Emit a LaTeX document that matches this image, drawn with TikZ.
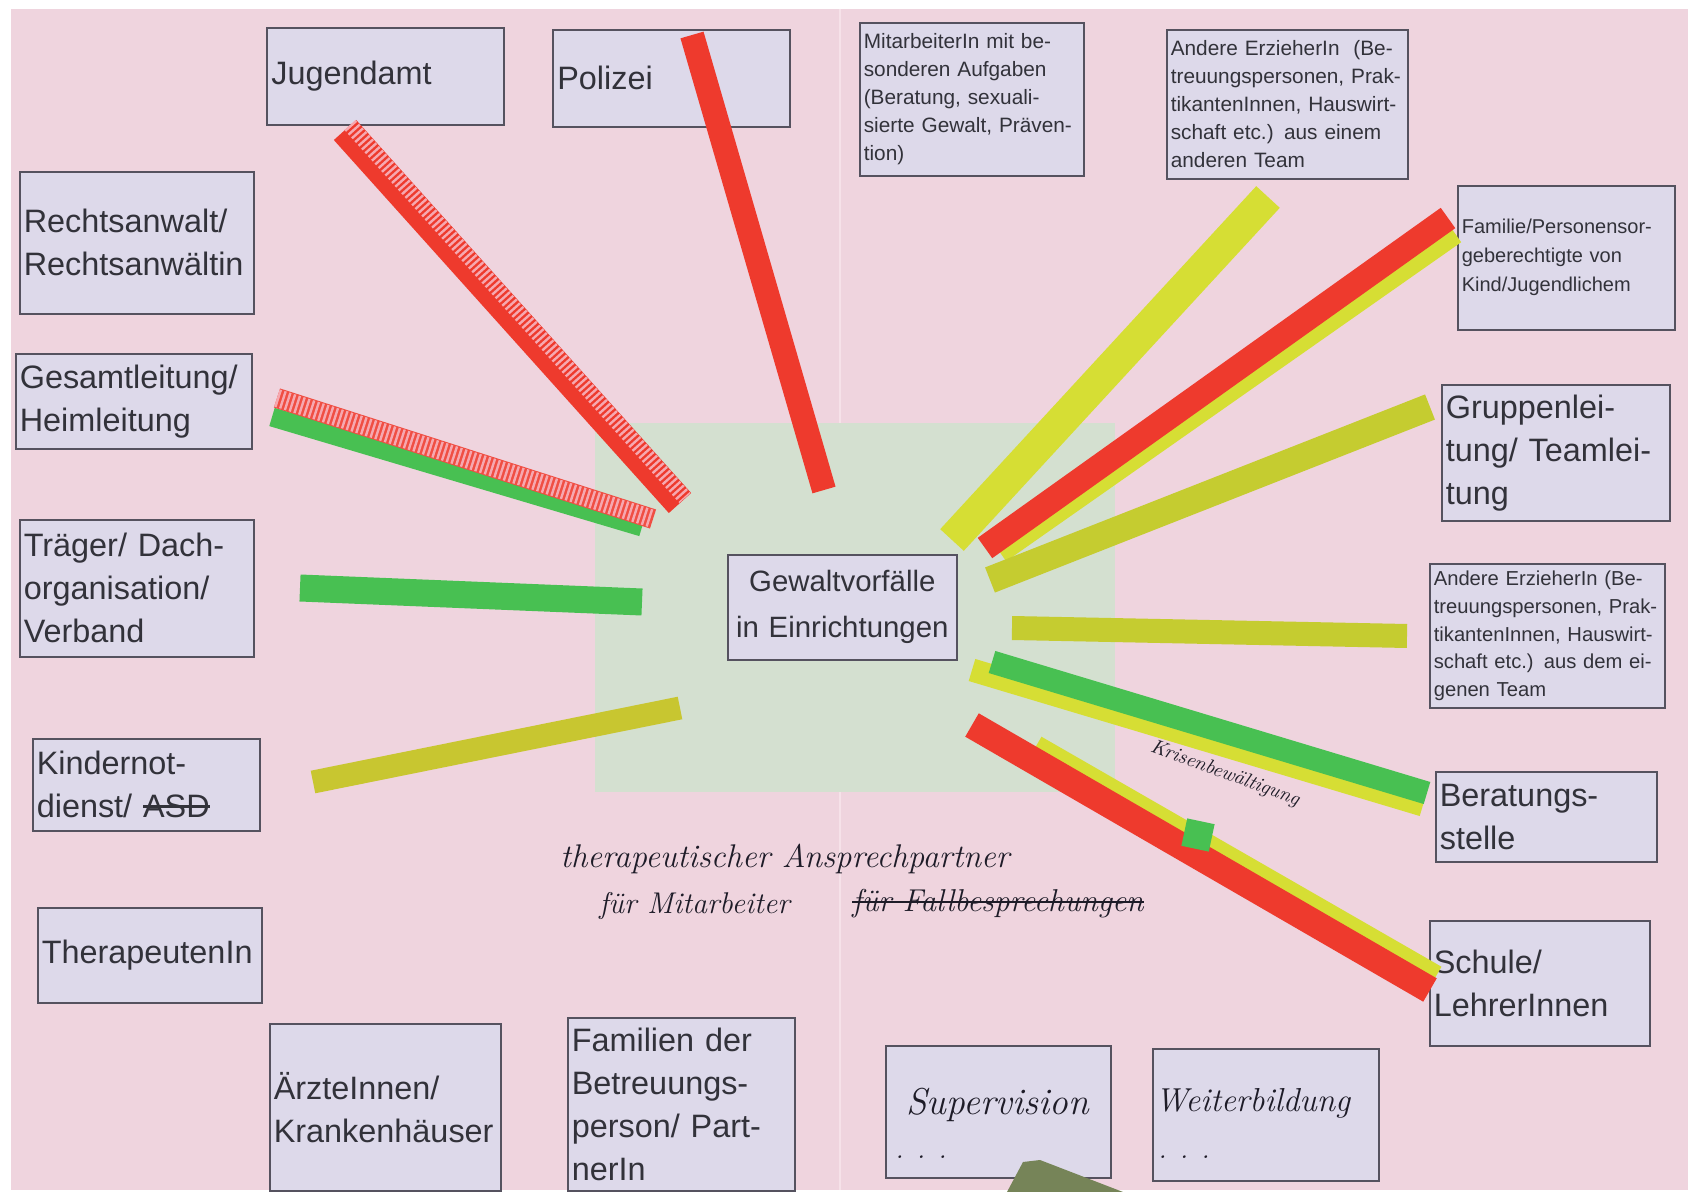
\documentclass[tikz,border=0pt]{standalone}
\usepackage{fontspec}
\newfontfamily\arialf{Liberation Sans}
\usetikzlibrary{calc}
\newsavebox\strkbox
\newcommand\strk[1]{\sbox\strkbox{#1}\rlap{\rule[0.32em]{\wd\strkbox}{0.08em}}\usebox\strkbox}
\newcommand\handfont[1]{\itshape\fontsize{#1}{#1}\selectfont\addfontfeature{FakeBold=1.6}}
\definecolor{poster}{RGB}{239,212,222}
\definecolor{foldc}{RGB}{246,226,233}
\definecolor{boxfill}{RGB}{221,217,234}
\definecolor{boxline}{RGB}{85,82,95}
\definecolor{txt}{RGB}{50,50,58}
\definecolor{centerfill}{RGB}{212,224,208}
\definecolor{tapered}{RGB}{238,58,45}
\definecolor{tapepink}{RGB}{246,168,176}
\definecolor{tapegreen}{RGB}{72,192,82}
\definecolor{tapeyellow}{RGB}{214,222,52}
\definecolor{tapeolive}{RGB}{200,198,48}
\definecolor{ink}{RGB}{30,28,40}
\definecolor{olivepaper}{RGB}{118,132,88}
\begin{document}
\begin{tikzpicture}[x=0.5pt,y=-0.5pt,
  card/.style={draw=boxline, line width=0.8pt, fill=boxfill, anchor=north west,
    inner xsep=2pt, inner ysep=0pt, align=left, text=txt},
  big/.style={font=\arialf\fontsize{16.2}{21.5}\selectfont},
  smallA/.style={font=\arialf\fontsize{10.4}{14}\selectfont},
  smallC/.style={font=\arialf\fontsize{10.1}{13.8}\selectfont},
  smallB/.style={font=\arialf\fontsize{10}{14.5}\selectfont},
  hand/.style={text=ink, inner sep=0pt},
  tape/.style={line width=#1, line cap=butt},
  hatch/.style={tapepink, line width=#1, line cap=butt, dash pattern=on 1.2pt off 1.3pt}
]
\useasboundingbox (0,0) rectangle (1688,1192);
\fill[white] (0,0) rectangle (1688,1192);
\fill[poster] (11,9) rectangle (1688,1190);
\draw[foldc, line width=1pt] (840,9) -- (840,1190);
\node[fill=centerfill, anchor=north west, minimum width=260pt, minimum height=184.5pt, inner sep=0pt] (sq) at (595,423) {};

% boxes
\node[card,big,text width=114pt,minimum width=118.5pt,minimum height=48.5pt] (jug) at (266,27) {Jugendamt};
\node[card,big,text width=114pt,minimum width=118.5pt,minimum height=48.5pt] (pol) at (552,29) {Polizei};
\node[card,smallA,text width=108pt,minimum width=112pt,minimum height=76.5pt] (mit) at (859,22) {MitarbeiterIn mit be-\\sonderen Aufgaben\\(Beratung, sexuali-\\sierte Gewalt, Präven-\\tion)};
\node[card,smallA,text width=116.5pt,minimum width=120.5pt,minimum height=74.5pt] (andA) at (1166,29) {Andere ErzieherIn~~(Be-\\treuungspersonen, Prak-\\tikantenInnen, Hauswirt-\\schaft etc.) aus einem\\anderen Team};
\node[card,smallB,text width=104.5pt,minimum width=108.5pt,minimum height=72pt] (fam) at (1457,185) {Familie/Personensor-\\geberechtigte von\\Kind/Jugendlichem};
\node[card,big,text width=110pt,minimum width=114pt,minimum height=68pt] (grp) at (1441,384) {Gruppenlei-\\tung/ Teamlei-\\tung};
\node[card,smallC,text width=113.5pt,minimum width=117.5pt,minimum height=72pt] (andB) at (1429,563) {Andere ErzieherIn (Be-\\treuungspersonen, Prak-\\tikantenInnen, Hauswirt-\\schaft etc.) aus dem ei-\\genen Team};
\node[card,big,text width=106.5pt,minimum width=110.5pt,minimum height=45pt] (ber) at (1435,771) {Beratungs-\\stelle};
\node[card,big,text width=106pt,minimum width=110pt,minimum height=62.5pt] (sch) at (1429,920) {Schule/\\LehrerInnen};
\node[card,text width=109pt,minimum width=113pt,minimum height=66pt] (wei) at (1152,1048) {};
\node[card,text width=108.5pt,minimum width=112.5pt,minimum height=66pt] (sup) at (885,1045) {};
\node[card,big,text width=109.5pt,minimum width=113.5pt,minimum height=86.5pt] (famB) at (567,1017) {Familien der\\Betreuungs-\\person/ Part-\\nerIn};
\node[card,big,text width=111.5pt,minimum width=115.5pt,minimum height=83.5pt] (arz) at (269,1023) {ÄrzteInnen/\\Krankenhäuser};
\node[card,big,text width=108pt,minimum width=112pt,minimum height=47.5pt] (ther) at (37,907) {TherapeutenIn};
\node[card,big,text width=109.5pt,minimum width=113.5pt,minimum height=46pt] (kind) at (32,738) {Kindernot-\\dienst/ \strk{ASD}};
\node[card,big,text width=113pt,minimum width=117pt,minimum height=68.5pt] (trag) at (19,519) {Träger/ Dach-\\organisation/\\Verband};
\node[card,big,text width=114pt,minimum width=118pt,minimum height=47.5pt] (ges) at (15,353) {Gesamtleitung/\\Heimleitung};
\node[card,big,text width=113pt,minimum width=117pt,minimum height=71pt] (rech) at (19,171) {Rechtsanwalt/\\Rechtsanwältin};
\node[card,align=center,font=\arialf\fontsize{14.7}{23}\selectfont,text width=110pt,minimum width=114.5pt,minimum height=52.5pt] (ctr) at (727,554) {Gewaltvorfälle\\in Einrichtungen};

% handwritten texts
\node[hand,anchor=base west,font=\handfont{18.7}] (supT) at (906,1114) {Supervision};
\node[hand,anchor=base west,font=\handfont{14}] (supD) at (895,1158) {. . .};
\node[hand,anchor=base west,font=\handfont{16.6}] (weiT) at (1155,1111) {Weiterbildung};
\node[hand,anchor=base west,font=\handfont{14}] (weiD) at (1158,1158) {. . .};
\node[hand,anchor=base west,font=\handfont{16.4}] (therA) at (560,867) {therapeutischer Ansprechpartner};
\node[hand,anchor=base west,font=\handfont{15}] (therB) at (599,913) {für Mitarbeiter};
\node[hand,anchor=base west,font=\handfont{15.8}] (therC) at (852,911) {für Fallbesprechungen};
\draw[ink, line width=1pt] ($(therC.base west)+(0,-9)$) -- ($(therC.base east)+(0,-9)$);

% tape endpoints
\coordinate (polA) at (692,35);   \coordinate (polB) at (824,490);
\coordinate (jugA) at (345,130);  \coordinate (jugB) at (680,503);
\coordinate (jugC) at (350,125);  \coordinate (jugD) at (685,498);
\coordinate (gesGA) at (272,417); \coordinate (gesGB) at (642,527);
\coordinate (gesRA) at (277,398); \coordinate (gesRB) at (653,519);
\coordinate (tragA) at (300,588); \coordinate (tragB) at (642,602);
\coordinate (kindA) at (313,782); \coordinate (kindB) at (680,708);
\coordinate (andAA) at (1268,197); \coordinate (andAB) at (952,540);
\coordinate (famYA) at (1454,232); \coordinate (famYB) at (999,551);
\coordinate (famRA) at (1448,218); \coordinate (famRB) at (985,548);
\coordinate (grpA) at (1430,407); \coordinate (grpB) at (990,580);
\coordinate (andBA) at (1012,628); \coordinate (andBB) at (1407,636);
\coordinate (berYA) at (972,670); \coordinate (berYB) at (1423,805);
\coordinate (berGA) at (992,662); \coordinate (berGB) at (1427,793);
\coordinate (schYA) at (1035,748); \coordinate (schYB) at (1435,978);
\coordinate (schRA) at (972,725); \coordinate (schRB) at (1430,990);

% tapes
\draw[tapered, tape=12pt] (polA) -- (polB);
\draw[tapered, tape=15pt] (jugA) -- (jugB);
\draw[hatch=7.5pt] (jugC) -- (jugD);
\draw[tapegreen, tape=9.5pt] (gesGA) -- (gesGB);
\draw[tapered!85!pink, tape=10pt] (gesRA) -- (gesRB);
\draw[hatch=9pt] (gesRA) -- (gesRB);
\draw[tapegreen, tape=13.5pt] (tragA) -- (tragB);
\draw[tapeolive, tape=11.5pt] (kindA) -- (kindB);
\draw[tapeyellow, tape=16pt] (andAA) -- (andAB);
\draw[tapeyellow, tape=12.5pt] (famYA) -- (famYB);
\draw[tapered, tape=12.5pt] (famRA) -- (famRB);
\draw[tapeyellow!92!black, tape=13.5pt] (grpA) -- (grpB);
\draw[tapeyellow!92!black, tape=12pt] (andBA) -- (andBB);
\draw[tapeyellow, tape=11.5pt] (berYA) -- (berYB);
\draw[tapegreen, tape=11.5pt] (berGA) -- (berGB);
\draw[tapeyellow, tape=13pt] (schYA) -- (schYB);
\draw[tapered, tape=13.5pt] (schRA) -- (schRB);
\node[fill=tapegreen, minimum size=14pt, inner sep=0pt, rotate=-12] (gsq) at (1198,835) {};
\node[hand,font=\handfont{10}, rotate=-20] (kris) at (1225,774) {Krisenbewältigung};

% paper piece at bottom
\fill[olivepaper] (1007,1192) -- (1023,1162) -- (1040,1160) -- (1123,1192) -- cycle;
\end{tikzpicture}
\end{document}
